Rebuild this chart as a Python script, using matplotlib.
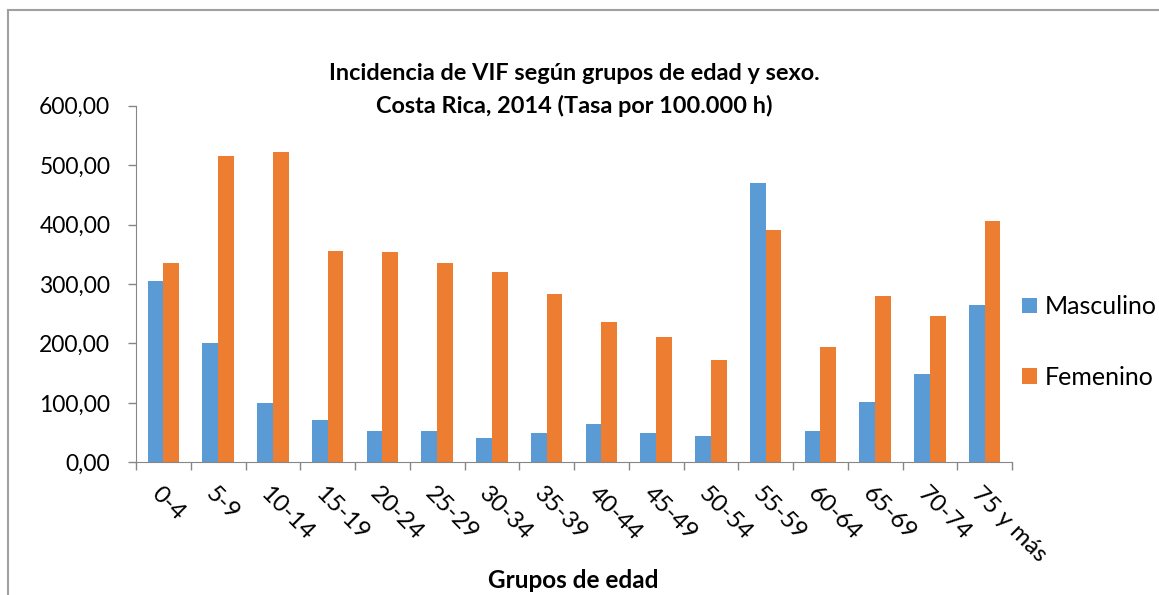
import matplotlib
matplotlib.use("Agg")
import matplotlib.pyplot as plt
import numpy as np
from matplotlib.lines import Line2D

plt.rcParams["font.family"] = ["Lato", "DejaVu Sans"]

# Data
grupos = ["0-4", "5-9", "10-14", "15-19", "20-24", "25-29", "30-34", "35-39",
          "40-44", "45-49", "50-54", "55-59", "60-64", "65-69", "70-74", "75 y más"]
masculino = [305.5, 200.2, 99.2, 70.6, 53.2, 52.7, 41.5, 49.3,
             64.4, 48.8, 43.7, 470.4, 52.7, 100.9, 148.0, 264.6]
femenino = [335.8, 515.3, 522.6, 355.0, 353.8, 334.8, 320.2, 283.2,
            236.0, 210.3, 172.1, 390.8, 193.5, 280.3, 246.7, 406.0]
yticks = [0, 100, 200, 300, 400, 500, 600]

blue = "#5B9BD5"
orange = "#ED7D31"
axis_gray = "#868686"
W, H = 1159, 595

fig = plt.figure(figsize=(W / 100, H / 100), dpi=100)
ax = fig.add_axes([136 / W, 1 - 462.3 / H, (1012 - 136) / W, (462.3 - 105.7) / H])

x = np.arange(len(grupos))
w = 0.287
ax.bar(x - w / 2, masculino, w, color=blue, label="Masculino")
ax.bar(x + w / 2, femenino, w, color=orange, label="Femenino")

ax.set_xlim(-0.5, len(grupos) - 0.5)
ax.set_ylim(0, 600)
ax.set_yticks(yticks)
ax.set_yticklabels([f"{v:.2f}".replace(".", ",") for v in yticks], fontsize=16.5)

# category separators as x ticks
ax.set_xticks(np.arange(len(grupos) + 1) - 0.5)
ax.set_xticklabels([])
ax.tick_params(axis="both", direction="out", length=6, color=axis_gray, width=1)
ax.tick_params(axis="y", pad=12.5)

for s in ["top", "right"]:
    ax.spines[s].set_visible(False)
for s in ["left", "bottom"]:
    ax.spines[s].set_color(axis_gray)

# rotated category labels
for i, g in enumerate(grupos):
    ax.annotate(g, (i, 0), xycoords=("data", "axes fraction"),
                xytext=(-9, -28), textcoords="offset pixels",
                rotation=-45, rotation_mode="anchor", ha="left", va="center",
                fontsize=17.5)

fig.text(574 / W, 1 - 73 / H, "Incidencia de VIF según grupos de edad y sexo.",
         ha="center", va="center", fontsize=16.9, fontweight="bold")
fig.text(574 / W, 1 - 106 / H, "Costa Rica, 2014 (Tasa por 100.000 h)",
         ha="center", va="center", fontsize=16.9, fontweight="bold")
fig.text(573 / W, 1 - 580 / H, "Grupos de edad",
         ha="center", va="center", fontsize=17.5, fontweight="bold")

ax.legend(loc="center left", bbox_to_anchor=(1022 / W, 1 - 342 / H),
          bbox_transform=fig.transFigure, frameon=False, fontsize=18,
          handlelength=0.6, handleheight=0.6, handletextpad=0.3,
          labelspacing=1.9, borderaxespad=0, borderpad=0)

# chart frame (left and top edges)
fig.add_artist(Line2D([8 / W, 8 / W], [0, 1 - 9.5 / H], transform=fig.transFigure,
                      color="#A0A0A0", lw=1.5))
fig.add_artist(Line2D([8 / W, 1], [1 - 9.5 / H, 1 - 9.5 / H], transform=fig.transFigure,
                      color="#A0A0A0", lw=1.5))

fig.savefig("out.png", dpi=100)
